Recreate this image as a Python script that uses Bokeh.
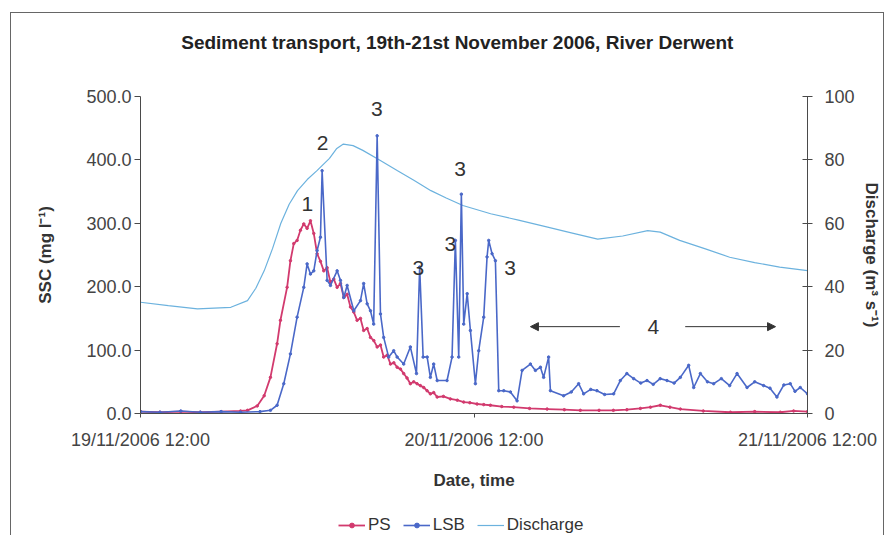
from bokeh.plotting import figure
from bokeh.layouts import column
from bokeh.models import (Range1d, LinearAxis, FixedTicker, NumeralTickFormatter,
                          Legend, LegendItem, Arrow, NormalHead, Label)
from bokeh.embed import file_html
from bokeh.resources import INLINE

# ---- data (hours after 19/11/2006 12:00) ----
ps_hours = [0, 1.4, 2.9, 4.3, 5.8, 7.2, 7.7, 8.4, 8.9, 9.35, 9.83, 10.07, 10.55, 10.79, 11.03,
            11.27, 11.51, 11.75, 11.99, 12.23, 12.47, 12.71, 12.95, 13.19, 13.43, 13.67, 13.91,
            14.15, 14.39, 14.63, 14.87, 15.11, 15.35, 15.59, 15.83, 16.06, 16.31, 16.55, 16.79,
            17.03, 17.27, 17.5, 17.75, 17.99, 18.23, 18.47, 18.71, 18.94, 19.18, 19.42, 19.66,
            19.9, 20.14, 20.38, 20.62, 20.86, 21.1, 21.35, 21.8, 22.3, 22.8, 23.26, 23.7, 24.22,
            24.7, 25.18, 26.0, 26.86, 28.0, 29.26, 30.5, 31.65, 33.0, 34.03, 35.0, 35.97, 36.7,
            37.41, 38.1, 38.85, 40.5, 42.45, 44.2, 46.04, 47.0, 48]
ps_ssc = [3, 2, 3, 2, 3, 4, 5, 12, 28, 57, 110, 147, 199, 241, 268,
          273, 289, 299, 292, 304, 284, 252, 240, 225, 230, 207, 212,
          199, 205, 183, 188, 168, 160, 147, 150, 131, 134, 120, 115,
          105, 108, 89, 92, 78, 80, 73, 70, 63, 56, 47, 50,
          47, 44, 41, 36, 31, 33, 26, 27, 23, 21, 18, 17, 15,
          14, 13, 11, 10, 8, 7, 6, 5, 5, 5, 6, 8, 10,
          13, 10, 7, 4, 2, 3, 2, 4, 3]

lsb_hours = [0, 1.4, 2.9, 4.3, 5.8, 7.2, 8.6, 9.35, 9.83, 10.31, 10.79, 11.27, 11.75, 11.99,
             12.23, 12.47, 12.71, 12.95, 13.07, 13.43, 13.67, 14.15, 14.39, 14.63, 14.87, 15.35,
             15.83, 16.06, 16.31, 16.55, 16.78, 17.03, 17.27, 17.5, 17.86, 18.22, 18.47, 18.94,
             19.42, 19.86, 20.09, 20.34, 20.63, 20.86, 21.1, 21.35, 22.06, 22.42, 22.66, 22.9,
             23.09, 23.26, 23.51, 23.74, 24.1, 24.34, 24.7, 24.94, 25.06, 25.3, 25.54, 25.78,
             26.14, 26.62, 27.1, 27.46, 28.06, 28.42, 28.78, 29.01, 29.37, 29.5, 30.45, 31.0,
             31.53, 31.89, 32.4, 32.85, 33.4, 34.05, 34.53, 35.0, 35.49, 36.0, 36.45, 36.9,
             37.4, 37.89, 38.4, 38.85, 39.45, 39.81, 40.29, 40.8, 41.25, 41.8, 42.4, 42.93,
             43.65, 44.2, 44.84, 45.3, 45.8, 46.3, 46.76, 47.1, 47.48, 48]
lsb_ssc = [3, 2, 4, 2, 3, 2, 3, 5, 13, 47, 94, 152, 199, 236,
           220, 225, 257, 278, 383, 210, 202, 225, 210, 183, 202, 162,
           178, 205, 173, 162, 141, 438, 157, 120, 89, 99, 89, 78,
           105, 63, 231, 89, 89, 57, 78, 52, 52, 89, 273, 89,
           346, 141, 189, 131, 47, 99, 152, 247, 273, 252, 241, 36,
           36, 34, 20, 68, 78, 68, 73, 57, 89, 36, 28, 34,
           47, 31, 38, 36, 30, 31, 52, 63, 55, 48, 52, 46,
           55, 52, 48, 57, 76, 41, 63, 50, 47, 55, 44, 63,
           41, 50, 44, 40, 26, 45, 47, 35, 41, 31]

q_hours = [0, 2.0, 4.1, 6.5, 7.7, 8.3, 8.9, 9.5, 10.1, 10.7, 11.3, 12.0, 12.7, 13.6, 14.1, 14.6,
           15.3, 16.0, 17.2, 18.5, 19.7, 20.9, 22.0, 23.2, 25.2, 27.2, 29.3, 31.0, 32.9, 34.7,
           36.5, 37.4, 38.8, 40.6, 42.4, 44.2, 46.0, 48]
q_flow = [35.1, 34.0, 33.0, 33.5, 35.6, 39.5, 45.0, 52.0, 60.0, 66.0, 70.3, 73.8, 76.6, 80.5, 83.5, 85.0,
          84.5, 83.0, 80.0, 76.6, 73.5, 70.3, 68.0, 65.6, 63.0, 61.0, 58.8, 57.0, 55.0, 56.0,
          57.7, 57.2, 54.6, 52.0, 49.3, 47.6, 46.2, 45.1]

x_tick_hours = [0, 24, 48]
x_tick_labels = ["19/11/2006 12:00", "20/11/2006 12:00", "21/11/2006 12:00"]
series_names = ["PS", "LSB", "Discharge"]

note_text = ["1", "2", "3", "3", "3", "3", "3"]
note_hours = [12.0, 13.1, 17.0, 20.0, 22.3, 23.0, 26.6]
note_ssc = [331, 427, 481, 229, 268, 386, 229]

TITLE = "Sediment transport, 19th-21st November 2006, River Derwent"
FONT = "Liberation Sans"
PS_C = "#d23a6e"
LSB_C = "#4a68c8"
Q_C = "#6cb2de"
AX_C = "#4a4a4a"
TXT_C = "#333333"
W = 872


def bare(height, lo, hi):
    f = figure(width=W, height=height, output_backend="svg", toolbar_location=None,
               x_range=Range1d(lo, hi), y_range=Range1d(lo, hi),
               x_axis_type=None, y_axis_type=None,
               min_border_left=0, min_border_right=0, min_border_top=0, min_border_bottom=0)
    f.xgrid.visible = False
    f.ygrid.visible = False
    f.outline_line_color = None
    return f


# ---- header with title ----
head = bare(68, 0, 1)
head.add_layout(Label(x=0.475, y=0.574, text=TITLE, text_font=FONT, text_font_size="19px",
                      text_font_style="bold", text_color="#222222",
                      text_align="center", text_baseline="middle"))

# ---- main plot ----
p = figure(width=W, height=432, output_backend="svg", toolbar_location=None,
           x_range=Range1d(0, 48), y_range=Range1d(0, 500),
           min_border_left=129, min_border_right=76, min_border_top=15, min_border_bottom=100)
p.xgrid.visible = False
p.ygrid.visible = False
p.outline_line_color = None
p.extra_y_ranges = {"q": Range1d(0, 100)}


def style_axis(ax):
    ax.axis_label_text_font = FONT
    ax.axis_label_text_font_style = "bold"
    ax.axis_label_text_font_size = "17px"
    ax.axis_label_text_color = TXT_C
    ax.major_label_text_font = FONT
    ax.major_label_text_font_size = "18px"
    ax.major_label_text_color = "#444444"
    ax.minor_tick_out = 0
    ax.minor_tick_in = 0
    ax.axis_line_color = AX_C
    ax.major_tick_line_color = AX_C


ya = p.yaxis[0]
style_axis(ya)
ya.ticker = FixedTicker(ticks=[0, 100, 200, 300, 400, 500])
ya.formatter = NumeralTickFormatter(format="0.0")
ya.axis_label = "SSC (mg l⁻¹)"
ya.axis_label_standoff = 28
ya.major_label_standoff = 3
ya.major_tick_out = 6
ya.major_tick_in = 0

ra = LinearAxis(y_range_name="q", ticker=FixedTicker(ticks=[0, 20, 40, 60, 80, 100]))
style_axis(ra)
ra.axis_label = "Discharge (m³ s⁻¹)"
ra.axis_label_standoff = 4
ra.major_label_standoff = 12
ra.major_tick_out = 5
ra.major_tick_in = 5
p.add_layout(ra, "right")

xa = p.xaxis[0]
style_axis(xa)
xa.ticker = FixedTicker(ticks=x_tick_hours)
xa.major_label_overrides = {h: lab for h, lab in zip(x_tick_hours, x_tick_labels)}
xa.axis_label = "Date, time"
xa.axis_label_standoff = 18
xa.major_label_standoff = 12
xa.major_tick_out = 4
xa.major_tick_in = 0


def draw_series(f, marker_size, q_range=None):
    kw = {"y_range_name": q_range} if q_range else {}
    rq = f.line(q_hours, q_flow, line_color=Q_C, line_width=1.2, **kw)
    r1 = f.line(ps_hours, ps_ssc, line_color=PS_C, line_width=1.8)
    m1 = f.scatter(ps_hours, ps_ssc, marker="circle", size=marker_size, color=PS_C)
    r2 = f.line(lsb_hours, lsb_ssc, line_color=LSB_C, line_width=1.6)
    m2 = f.scatter(lsb_hours, lsb_ssc, marker="circle", size=marker_size, color=LSB_C)
    return [r1, m1], [r2, m2], [rq]


draw_series(p, 2.5, "q")

for t, h, v in zip(note_text, note_hours, note_ssc):
    p.add_layout(Label(x=h, y=v, text=t, text_font=FONT, text_font_size="21px",
                       text_color=TXT_C, text_align="center", text_baseline="middle"))
p.add_layout(Label(x=36.9, y=137, text="4", text_font=FONT, text_font_size="21px",
                   text_color=TXT_C, text_align="center", text_baseline="middle"))
p.add_layout(Arrow(x_start=34.5, y_start=137, x_end=28.06, y_end=137, line_color=TXT_C,
                   line_width=1, end=NormalHead(size=8, fill_color=TXT_C, line_color=TXT_C)))
p.add_layout(Arrow(x_start=39.2, y_start=137, x_end=45.7, y_end=137, line_color=TXT_C,
                   line_width=1, end=NormalHead(size=8, fill_color=TXT_C, line_color=TXT_C)))

# ---- legend strip: same series drawn out of view, legend only ----
leg = bare(22, -20, -10)
ps_r, lsb_r, q_r = draw_series(leg, 3.5)
legend = Legend(items=[LegendItem(label=series_names[0], renderers=ps_r),
                       LegendItem(label=series_names[1], renderers=lsb_r),
                       LegendItem(label=series_names[2], renderers=q_r)],
                orientation="horizontal", location=(198, 0),
                label_text_font=FONT, label_text_font_size="17px", label_text_color=TXT_C,
                border_line_color=None, background_fill_alpha=0,
                glyph_width=27, glyph_height=12, spacing=12, label_standoff=3,
                padding=0, margin=0, label_height=16)
leg.add_layout(legend, "center")

layout = column(head, p, leg, spacing=0,
                styles={"margin-left": "10px", "margin-top": "12px",
                        "border-top": "1px solid #666", "border-left": "1px solid #666",
                        "border-right": "1px solid #666"})

open("out.html", "w").write(file_html(layout, INLINE))
